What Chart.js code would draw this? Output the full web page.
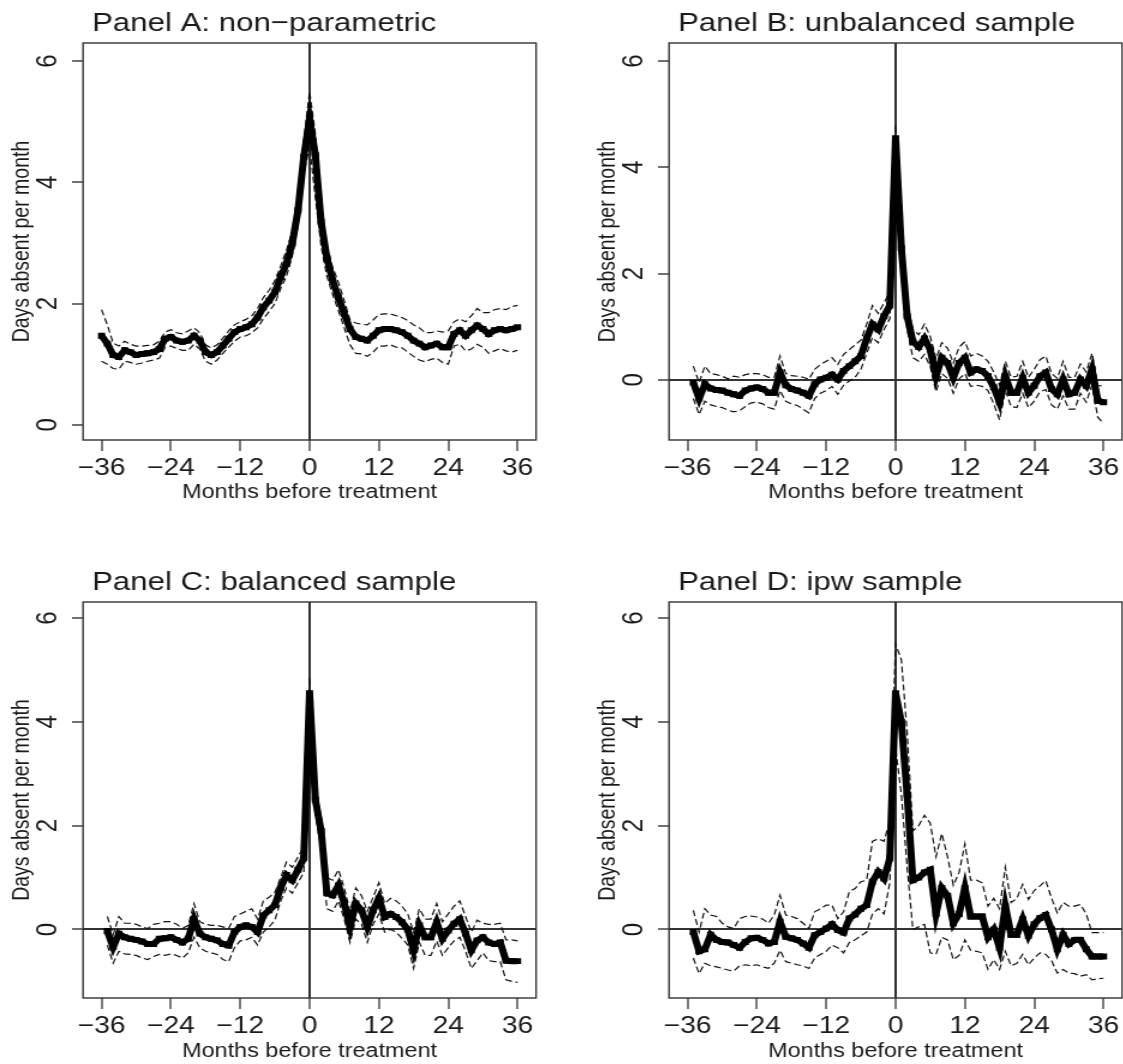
<!DOCTYPE html>
<html>
<head>
<meta charset="utf-8">
<title>Days absent per month, months before treatment</title>
<script src="https://cdn.jsdelivr.net/npm/chart.js@4.4.0/dist/chart.umd.min.js"></script>
<style>
  html, body { margin: 0; padding: 0; background: #fff; }
  body { width: 1123px; height: 1064px; position: relative; overflow: hidden; }
  /* the original figure is stretched sideways, so each panel is too */
  canvas { position: absolute; transform: scaleX(1.2); transform-origin: 0 0; }
</style>
</head>
<body>
<canvas id="panelA" width="470" height="505" style="left:0px;top:0px"></canvas>
<canvas id="panelB" width="470" height="505" style="left:586px;top:0px"></canvas>
<canvas id="panelC" width="470" height="505" style="left:0px;top:559px"></canvas>
<canvas id="panelD" width="470" height="505" style="left:586px;top:559px"></canvas>
<script>
// months relative to treatment, -36 .. 36
const months = [];
for (let m = -36; m <= 36; m++) months.push(m);

const xTicks = [-36, -24, -12, 0, 12, 24, 36];
const yTicks = [0, 2, 4, 6];

// Panel A: non-parametric
const aMean = [1.47,1.34,1.15,1.12,1.23,1.20,1.15,1.17,1.18,1.20,
  1.25,1.42,1.45,1.39,1.37,1.39,1.47,1.39,1.20,1.15,
  1.20,1.31,1.42,1.53,1.58,1.61,1.66,1.77,1.94,2.05,
  2.19,2.44,2.66,2.99,3.54,4.42,5.05,
  4.45,3.35,2.75,2.38,2.10,1.83,1.58,1.45,1.42,1.39,
  1.47,1.56,1.58,1.58,1.56,1.53,1.47,1.39,1.34,1.28,
  1.31,1.34,1.28,1.28,1.50,1.56,1.47,1.56,1.64,1.58,
  1.50,1.56,1.58,1.56,1.58,1.61];
const aUpper = [1.90,1.65,1.35,1.30,1.38,1.33,1.30,1.30,1.31,1.32,
  1.38,1.53,1.57,1.52,1.50,1.55,1.60,1.52,1.32,1.27,
  1.32,1.43,1.55,1.65,1.70,1.74,1.80,1.92,2.10,2.22,
  2.38,2.62,2.88,3.20,3.75,4.70,5.50,
  4.80,3.60,2.95,2.60,2.35,2.05,1.73,1.68,1.66,1.65,
  1.73,1.82,1.83,1.83,1.80,1.77,1.72,1.65,1.60,1.52,
  1.52,1.55,1.53,1.55,1.70,1.75,1.70,1.80,1.92,1.85,
  1.85,1.90,1.92,1.90,1.95,1.97];
const aLower = [1.05,1.00,0.93,0.92,1.05,1.03,1.00,1.02,1.05,1.07,
  1.10,1.28,1.30,1.26,1.23,1.23,1.33,1.25,1.05,1.00,
  1.07,1.18,1.28,1.38,1.45,1.47,1.52,1.60,1.75,1.87,
  2.00,2.25,2.45,2.78,3.30,4.15,4.60,
  3.75,2.95,2.45,2.15,1.88,1.60,1.32,1.18,1.17,1.13,
  1.20,1.30,1.30,1.32,1.28,1.27,1.20,1.13,1.07,1.04,
  1.08,1.10,1.03,1.00,1.30,1.33,1.22,1.25,1.33,1.28,
  1.18,1.22,1.26,1.22,1.20,1.23];

// Panel B: unbalanced sample
const bMean = [null,-0.05,-0.35,-0.08,-0.16,-0.19,-0.20,-0.24,-0.27,-0.30,
  -0.20,-0.16,-0.14,-0.17,-0.24,-0.24,0.14,-0.10,-0.17,-0.20,
  -0.24,-0.30,-0.08,0.01,0.04,0.10,0.01,0.17,0.26,0.35,
  0.45,0.78,1.05,0.95,1.20,1.40,4.55,
  2.48,1.20,0.72,0.62,0.78,0.57,0.07,0.42,0.32,0.04,
  0.32,0.42,0.14,0.20,0.17,0.07,-0.14,-0.42,0.07,-0.24,
  -0.24,0.04,-0.24,-0.11,0.07,0.14,-0.17,-0.27,0.01,-0.27,
  -0.24,0.01,-0.11,0.20,-0.39,-0.42];
const bUpper = [null,0.26,-0.05,0.26,0.12,0.10,0.07,0.02,0.07,0.05,
  0.10,0.12,0.12,0.10,0.05,0.05,0.45,0.12,0.08,0.07,
  0.05,0.01,0.20,0.29,0.35,0.42,0.29,0.48,0.57,0.66,
  0.75,1.05,1.40,1.25,1.45,1.65,4.80,
  2.75,1.45,0.95,0.85,1.05,0.82,0.40,0.70,0.60,0.32,
  0.62,0.72,0.45,0.50,0.45,0.35,0.15,-0.10,0.35,0.05,
  0.07,0.35,0.05,0.20,0.38,0.45,0.12,0.03,0.35,0.05,
  0.05,0.30,0.15,0.50,-0.10,-0.12];
const bLower = [null,-0.35,-0.65,-0.40,-0.47,-0.50,-0.52,-0.57,-0.60,-0.58,
  -0.50,-0.43,-0.42,-0.45,-0.52,-0.55,-0.20,-0.40,-0.45,-0.48,
  -0.55,-0.62,-0.35,-0.25,-0.20,-0.12,-0.27,-0.10,-0.02,0.05,
  0.20,0.50,0.80,0.70,0.95,1.15,4.30,
  2.20,0.95,0.42,0.35,0.48,0.25,-0.22,0.12,0.03,-0.25,
  0.02,0.12,-0.12,-0.10,-0.12,-0.20,-0.45,-0.75,-0.20,-0.50,
  -0.52,-0.25,-0.52,-0.40,-0.22,-0.18,-0.47,-0.55,-0.30,-0.55,
  -0.55,-0.25,-0.42,-0.10,-0.70,-0.82];

// Panel C: balanced sample
const cMean = [null,-0.03,-0.34,-0.08,-0.15,-0.18,-0.20,-0.23,-0.28,-0.28,
  -0.18,-0.17,-0.15,-0.20,-0.25,-0.18,0.20,-0.08,-0.15,-0.18,
  -0.21,-0.28,-0.31,-0.05,0.05,0.08,0.05,-0.05,0.27,0.37,
  0.47,0.80,1.05,0.95,1.15,1.37,4.55,
  2.50,1.90,0.70,0.66,0.85,0.50,0.05,0.50,0.37,0.05,
  0.37,0.60,0.24,0.30,0.24,0.14,0.00,-0.40,0.08,-0.15,
  -0.15,0.14,-0.18,-0.02,0.11,0.20,-0.08,-0.40,-0.21,-0.15,
  -0.25,-0.28,-0.25,-0.60,-0.61,-0.61];
const cUpper = [null,0.25,-0.10,0.25,0.12,0.12,0.10,0.05,0.02,0.10,
  0.12,0.15,0.15,0.10,0.02,0.08,0.50,0.15,0.10,0.08,
  0.08,0.05,0.02,0.25,0.30,0.35,0.40,0.20,0.55,0.62,
  0.72,1.00,1.30,1.20,1.40,1.60,4.85,
  2.80,2.15,1.00,0.95,1.15,0.80,0.35,0.80,0.65,0.35,
  0.62,0.90,0.50,0.60,0.55,0.45,0.30,-0.05,0.40,0.20,
  0.20,0.50,0.15,0.30,0.45,0.55,0.25,-0.05,0.18,0.12,
  0.10,0.10,0.12,-0.20,-0.20,-0.22];
const cLower = [null,-0.30,-0.65,-0.42,-0.47,-0.48,-0.50,-0.55,-0.58,-0.52,
  -0.48,-0.50,-0.47,-0.50,-0.55,-0.45,-0.15,-0.35,-0.42,-0.45,
  -0.48,-0.58,-0.62,-0.35,-0.22,-0.20,-0.15,-0.30,-0.05,0.05,
  0.18,0.55,0.80,0.70,0.90,1.10,4.30,
  2.20,1.60,0.40,0.35,0.55,0.20,-0.25,0.20,0.10,-0.25,
  0.10,0.30,-0.05,0.00,-0.05,-0.17,-0.30,-0.75,-0.25,-0.50,
  -0.50,-0.22,-0.50,-0.35,-0.22,-0.15,-0.42,-0.75,-0.60,-0.45,
  -0.60,-0.62,-0.62,-0.97,-1.00,-1.02];

// Panel D: ipw sample
const dMean = [null,-0.05,-0.42,-0.38,-0.10,-0.20,-0.24,-0.25,-0.30,-0.35,
  -0.24,-0.17,-0.16,-0.20,-0.27,-0.24,0.15,-0.14,-0.17,-0.20,
  -0.27,-0.35,-0.11,-0.05,0.02,0.10,-0.01,-0.06,0.21,0.29,
  0.40,0.47,0.92,1.11,0.98,1.37,4.55,
  4.00,2.60,0.95,1.00,1.10,1.15,0.30,0.80,0.65,0.12,
  0.30,0.80,0.25,0.25,0.25,-0.15,0.00,-0.35,0.45,-0.10,
  -0.10,0.20,-0.12,0.10,0.22,0.28,0.00,-0.38,-0.10,-0.28,
  -0.20,-0.20,-0.38,-0.52,-0.52,-0.52];
const dUpper = [null,0.37,-0.05,0.40,0.28,0.25,0.12,0.05,0.02,0.21,
  0.25,0.26,0.24,0.20,0.12,0.28,0.66,0.28,0.25,0.21,
  0.12,0.02,0.34,0.40,0.47,0.47,0.21,0.34,0.73,0.79,
  0.92,0.95,1.70,1.75,1.70,2.10,5.50,
  5.20,3.80,1.90,2.00,2.20,2.05,1.40,1.85,1.40,0.85,
  1.10,1.65,0.95,0.95,0.90,0.45,0.60,0.40,1.20,0.52,
  0.60,0.87,0.58,0.75,0.84,0.94,0.60,0.32,0.52,0.45,
  0.45,0.48,0.30,-0.06,-0.06,-0.06];
const dLower = [null,-0.55,-0.85,-0.65,-0.70,-0.72,-0.75,-0.78,-0.80,-0.70,
  -0.68,-0.70,-0.68,-0.72,-0.75,-0.65,-0.40,-0.62,-0.65,-0.68,
  -0.70,-0.75,-0.55,-0.48,-0.42,-0.30,-0.35,-0.45,-0.25,-0.20,
  -0.12,-0.05,0.30,0.40,0.30,0.90,3.50,
  2.60,1.20,0.00,0.05,0.10,-0.45,-0.48,-0.15,-0.20,-0.58,
  -0.50,-0.20,-0.40,-0.42,-0.45,-0.77,-0.58,-0.77,-0.42,-0.70,
  -0.65,-0.48,-0.68,-0.55,-0.45,-0.48,-0.60,-0.84,-0.77,-0.84,
  -0.85,-0.90,-0.87,-0.97,-0.95,-0.94];

const FONT = "'Liberation Sans', Arial, Helvetica, sans-serif";
const INK = '#1a1a1a';
const LINE = '#333';

// box around the plot region, like base R graphics
const framePlugin = {
  id: 'frame',
  afterDraw(chart) {
    const { ctx, chartArea: a } = chart;
    ctx.save();
    ctx.strokeStyle = LINE;
    ctx.lineWidth = 1.4;
    ctx.strokeRect(a.left, a.top, a.right - a.left, a.bottom - a.top);
    ctx.restore();
  }
};

// panel heading, left aligned just inside the box
const headingPlugin = {
  id: 'heading',
  afterDraw(chart, args, opts) {
    const ctx = chart.ctx;
    ctx.save();
    ctx.font = '26px ' + FONT;
    ctx.fillStyle = INK;
    ctx.textBaseline = 'alphabetic';
    ctx.fillText(opts.text, chart.chartArea.left + 7.5, 31);
    ctx.restore();
  }
};

function toPoints(vals) {
  return months.map((m, i) => ({ x: m, y: vals[i] }));
}

function makePanel(id, title, mean, upper, lower, yMin, yMax, zeroLine, xAxisHeight) {
  const ctx = document.getElementById(id).getContext('2d');
  new Chart(ctx, {
    type: 'line',
    data: {
      datasets: [
        {
          label: 'Estimate',
          data: toPoints(mean),
          borderColor: '#000',
          backgroundColor: '#000',
          borderWidth: 6,
          pointStyle: 'rect',
          pointRadius: 4.2,
          pointBorderWidth: 0,
          tension: 0
        },
        {
          label: 'Upper bound',
          data: toPoints(upper),
          borderColor: '#111',
          borderWidth: 1.2,
          borderDash: [6, 3],
          pointRadius: 0,
          tension: 0
        },
        {
          label: 'Lower bound',
          data: toPoints(lower),
          borderColor: '#111',
          borderWidth: 1.2,
          borderDash: [6, 3],
          pointRadius: 0,
          tension: 0
        }
      ]
    },
    options: {
      responsive: false,
      animation: false,
      events: [],
      layout: { padding: { top: 43, right: 23.3, left: 0, bottom: 0 } },
      plugins: {
        legend: { display: false },
        tooltip: { enabled: false },
        heading: { text: title }
      },
      scales: {
        x: {
          type: 'linear',
          min: -39.2,
          max: 39.2,
          afterBuildTicks: scale => { scale.ticks = xTicks.map(v => ({ value: v })); },
          afterFit: scale => { scale.height = xAxisHeight; },
          border: { display: false },
          grid: {
            color: c => (c.tick && c.tick.value === 0 ? LINE : 'rgba(0,0,0,0)'),
            lineWidth: 2,
            tickColor: LINE,
            tickWidth: 1.3,
            tickLength: 11
          },
          ticks: {
            color: INK,
            font: { family: FONT, size: 23.5 },
            padding: 3,
            maxRotation: 0,
            callback: v => String(v).replace('-', '\u2212')
          },
          title: {
            display: true,
            text: 'Months before treatment',
            color: INK,
            font: { family: FONT, size: 19.5 },
            padding: { top: 0, bottom: 1 }
          }
        },
        y: {
          type: 'linear',
          min: yMin,
          max: yMax,
          afterBuildTicks: scale => { scale.ticks = yTicks.map(v => ({ value: v })); },
          afterFit: scale => { scale.width = 69.2; },
          border: { display: false },
          grid: {
            color: c => (zeroLine && c.tick && c.tick.value === 0 ? LINE : 'rgba(0,0,0,0)'),
            lineWidth: 2,
            tickColor: LINE,
            tickWidth: 1.4,
            tickLength: 9.2
          },
          ticks: {
            color: INK,
            font: { family: FONT, size: 24 },
            minRotation: 90,
            maxRotation: 90,
            crossAlign: 'center',
            padding: 13
          },
          title: {
            display: true,
            text: 'Days absent per month',
            color: INK,
            font: { family: FONT, size: 19.5 },
            padding: { top: 7, bottom: 0 }
          }
        }
      }
    },
    plugins: [framePlugin, headingPlugin]
  });
}

makePanel('panelA', 'Panel A: non\u2212parametric', aMean, aUpper, aLower, -0.25, 6.3, false, 65);
makePanel('panelB', 'Panel B: unbalanced sample', bMean, bUpper, bLower, -1.13, 6.34, true, 65);
makePanel('panelC', 'Panel C: balanced sample', cMean, cUpper, cLower, -1.32, 6.31, true, 66);
makePanel('panelD', 'Panel D: ipw sample', dMean, dUpper, dLower, -1.32, 6.31, true, 66);
</script>
</body>
</html>
